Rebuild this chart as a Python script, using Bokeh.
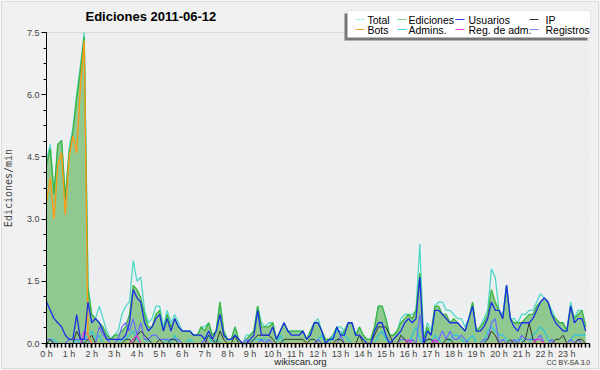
from bokeh.plotting import figure
from bokeh.models import Range1d, FixedTicker, Label, BoxAnnotation, LinearAxis
from bokeh.embed import file_html
from bokeh.resources import INLINE

# ---------------- data (edits per minute, 10-minute steps, 2011-06-12) ----------------
STEP_MIN = 10
total = [
    4.4, 4.8, 3.6, 4.8, 4.9, 3.5, 4.7, 5.2, 6.0, 6.7, 7.5, 1.4,
    0.7, 0.6, 0.9, 0.6, 0.3, 0.1, 0.2, 0.3, 0.7, 0.9, 1.0, 2.0,
    1.5, 1.6, 0.8, 0.5, 0.6, 0.9, 0.9, 0.4, 0.8, 0.5, 0.7, 0.5,
    0.3, 0.3, 0.3, 0.2, 0.2, 0.4, 0.4, 0.5, 0.2, 0.3, 1.0, 0.3,
    0.1, 0.1, 0.4, 0.1, 0.0, 0.2, 0.2, 0.3, 0.9, 0.5, 0.4, 0.5,
    0.5, 0.1, 0.3, 0.5, 0.3, 0.3, 0.3, 0.3, 0.3, 0.1, 0.3, 0.5,
    0.6, 0.3, 0.1, 0.1, 0.2, 0.4, 0.4, 0.3, 0.5, 0.5, 0.2, 0.4,
    0.2, 0.1, 0.1, 0.4, 0.9, 0.9, 0.6, 0.2, 0.2, 0.3, 0.6, 0.7,
    0.7, 0.7, 0.8, 2.4, 0.1, 0.5, 0.3, 0.9, 1.0, 1.0, 0.8, 0.8,
    0.7, 0.6, 0.6, 0.4, 0.6, 1.0, 0.3, 0.4, 0.6, 0.8, 1.8, 1.6,
    0.8, 0.7, 1.4, 0.6, 0.6, 0.5, 0.7, 0.7, 0.8, 0.8, 1.0, 1.2,
    1.1, 1.0, 0.8, 0.6, 0.5, 0.5, 0.3, 1.0, 0.6, 0.8, 0.8, 0.4,
]
ediciones = [
    4.3, 4.7, 3.6, 4.8, 4.9, 3.5, 4.6, 5.1, 5.9, 6.6, 7.4, 1.3,
    0.7, 0.6, 0.5, 0.4, 0.2, 0.1, 0.2, 0.2, 0.3, 0.4, 0.7, 1.4,
    1.3, 1.1, 0.7, 0.4, 0.4, 0.7, 0.8, 0.3, 0.7, 0.4, 0.6, 0.4,
    0.3, 0.3, 0.3, 0.2, 0.2, 0.4, 0.3, 0.5, 0.2, 0.3, 1.0, 0.3,
    0.1, 0.1, 0.4, 0.1, 0.0, 0.1, 0.2, 0.3, 0.9, 0.4, 0.4, 0.4,
    0.5, 0.1, 0.3, 0.5, 0.3, 0.3, 0.3, 0.3, 0.3, 0.1, 0.3, 0.5,
    0.5, 0.3, 0.1, 0.1, 0.2, 0.4, 0.2, 0.3, 0.5, 0.5, 0.2, 0.4,
    0.2, 0.1, 0.1, 0.4, 0.9, 0.9, 0.6, 0.2, 0.2, 0.3, 0.5, 0.6,
    0.7, 0.6, 0.8, 1.7, 0.1, 0.4, 0.2, 0.9, 0.9, 0.7, 0.7, 0.5,
    0.6, 0.5, 0.4, 0.3, 0.6, 1.0, 0.3, 0.4, 0.5, 0.7, 1.3, 1.0,
    0.8, 0.6, 1.4, 0.6, 0.5, 0.5, 0.5, 0.6, 0.7, 0.7, 0.9, 1.0,
    1.1, 1.0, 0.7, 0.6, 0.5, 0.5, 0.3, 0.9, 0.6, 0.7, 0.8, 0.4,
]
usuarios = [
    1.0, 0.8, 0.6, 0.5, 0.4, 0.2, 0.1, 0.1, 0.7, 0.1, 0.1, 1.0,
    0.5, 0.6, 0.5, 0.3, 0.1, 0.1, 0.1, 0.1, 0.1, 0.2, 0.5, 1.3,
    1.1, 1.0, 0.5, 0.3, 0.4, 0.6, 0.7, 0.3, 0.6, 0.3, 0.6, 0.4,
    0.3, 0.3, 0.3, 0.2, 0.2, 0.2, 0.1, 0.3, 0.1, 0.3, 0.7, 0.2,
    0.1, 0.1, 0.2, 0.1, 0.0, 0.0, 0.1, 0.2, 0.8, 0.2, 0.2, 0.2,
    0.4, 0.1, 0.3, 0.5, 0.3, 0.2, 0.2, 0.2, 0.3, 0.1, 0.2, 0.5,
    0.5, 0.3, 0.0, 0.1, 0.1, 0.4, 0.2, 0.2, 0.5, 0.5, 0.2, 0.2,
    0.1, 0.0, 0.0, 0.3, 0.5, 0.5, 0.2, 0.0, 0.1, 0.2, 0.3, 0.5,
    0.6, 0.5, 0.6, 1.6, 0.0, 0.3, 0.2, 0.8, 0.8, 0.7, 0.6, 0.5,
    0.5, 0.5, 0.4, 0.3, 0.6, 0.9, 0.3, 0.3, 0.4, 0.6, 1.0, 0.8,
    0.8, 0.6, 1.4, 0.6, 0.4, 0.3, 0.5, 0.5, 0.5, 0.6, 0.8, 1.0,
    1.1, 1.0, 0.7, 0.5, 0.4, 0.3, 0.3, 0.9, 0.5, 0.6, 0.6, 0.3,
]
ip = [
    0.0, 0.1, 0.0, 0.0, 0.0, 0.0, 0.0, 0.0, 0.3, 0.1, 0.0, 0.1,
    0.2, 0.0, 0.0, 0.0, 0.0, 0.0, 0.0, 0.0, 0.0, 0.1, 0.1, 0.0,
    0.2, 0.3, 0.2, 0.1, 0.0, 0.0, 0.1, 0.0, 0.0, 0.1, 0.1, 0.0,
    0.0, 0.0, 0.0, 0.0, 0.0, 0.0, 0.0, 0.2, 0.1, 0.0, 0.3, 0.1,
    0.0, 0.0, 0.2, 0.0, 0.0, 0.0, 0.0, 0.1, 0.2, 0.2, 0.2, 0.2,
    0.1, 0.0, 0.0, 0.1, 0.1, 0.1, 0.1, 0.1, 0.1, 0.0, 0.1, 0.1,
    0.0, 0.0, 0.0, 0.0, 0.0, 0.1, 0.1, 0.0, 0.0, 0.0, 0.0, 0.2,
    0.0, 0.0, 0.0, 0.2, 0.4, 0.4, 0.4, 0.2, 0.0, 0.0, 0.2, 0.1,
    0.0, 0.0, 0.0, 0.0, 0.0, 0.1, 0.1, 0.0, 0.0, 0.0, 0.1, 0.1,
    0.0, 0.0, 0.0, 0.0, 0.0, 0.0, 0.0, 0.0, 0.0, 0.1, 0.3, 0.2,
    0.0, 0.0, 0.0, 0.1, 0.0, 0.0, 0.0, 0.1, 0.5, 0.1, 0.0, 0.0,
    0.0, 0.0, 0.0, 0.1, 0.1, 0.2, 0.0, 0.0, 0.0, 0.1, 0.1, 0.0,
]
bots = [
    3.4, 4.0, 3.0, 4.3, 4.6, 3.1, 4.5, 5.0, 4.6, 6.2, 7.3, 0.2,
] + [0.0] * 132
admins = [
    0.1, 0.1, 0.1, 0.0, 0.0, 0.0, 0.0, 0.0, 0.1, 0.0, 0.1, 0.2,
    0.3, 0.1, 0.2, 0.0, 0.0, 0.0, 0.0, 0.0, 0.1, 0.1, 0.2, 0.3,
    0.1, 0.0, 0.0, 0.1, 0.0, 0.0, 0.0, 0.0, 0.1, 0.0, 0.2, 0.0,
    0.0, 0.0, 0.1, 0.0, 0.0, 0.0, 0.1, 0.2, 0.0, 0.1, 0.0, 0.0,
    0.0, 0.0, 0.0, 0.0, 0.0, 0.0, 0.0, 0.1, 0.1, 0.1, 0.1, 0.0,
    0.0, 0.0, 0.2, 0.0, 0.0, 0.0, 0.0, 0.0, 0.0, 0.0, 0.0, 0.0,
    0.1, 0.2, 0.0, 0.0, 0.2, 0.3, 0.3, 0.2, 0.1, 0.0, 0.0, 0.0,
    0.0, 0.0, 0.0, 0.0, 0.2, 0.3, 0.1, 0.0, 0.0, 0.0, 0.0, 0.0,
    0.0, 0.2, 0.4, 0.1, 0.0, 0.0, 0.0, 0.2, 0.1, 0.0, 0.0, 0.1,
    0.2, 0.2, 0.1, 0.0, 0.1, 0.2, 0.0, 0.0, 0.0, 0.3, 0.4, 0.3,
    0.2, 0.2, 0.1, 0.0, 0.0, 0.1, 0.1, 0.0, 0.0, 0.2, 0.3, 0.4,
    0.3, 0.1, 0.0, 0.0, 0.0, 0.0, 0.0, 0.1, 0.2, 0.2, 0.2, 0.2,
]
reg_adm = [
    0.0, 0.0, 0.0, 0.0, 0.0, 0.0, 0.0, 0.0, 0.0, 0.0, 0.3, 0.2,
    0.0, 0.0, 0.0, 0.0, 0.0, 0.0, 0.0, 0.0, 0.0, 0.0, 0.0, 0.1,
    0.2, 0.0, 0.0, 0.0, 0.0, 0.0, 0.0, 0.0, 0.0, 0.0, 0.0, 0.0,
    0.0, 0.0, 0.0, 0.0, 0.0, 0.0, 0.0, 0.0, 0.0, 0.0, 0.0, 0.0,
    0.0, 0.0, 0.0, 0.0, 0.0, 0.0, 0.0, 0.0, 0.0, 0.0, 0.0, 0.0,
    0.0, 0.0, 0.0, 0.0, 0.0, 0.0, 0.0, 0.0, 0.0, 0.0, 0.0, 0.0,
    0.0, 0.0, 0.0, 0.0, 0.0, 0.0, 0.0, 0.0, 0.0, 0.0, 0.0, 0.0,
    0.0, 0.0, 0.0, 0.0, 0.0, 0.0, 0.0, 0.0, 0.0, 0.0, 0.0, 0.0,
    0.1, 0.0, 0.0, 0.0, 0.0, 0.0, 0.0, 0.1, 0.0, 0.0, 0.0, 0.0,
    0.0, 0.0, 0.0, 0.0, 0.0, 0.0, 0.0, 0.0, 0.0, 0.0, 0.0, 0.0,
    0.0, 0.0, 0.0, 0.0, 0.0, 0.0, 0.0, 0.0, 0.0, 0.0, 0.1, 0.1,
    0.0, 0.0, 0.0, 0.0, 0.0, 0.0, 0.0, 0.0, 0.0, 0.0, 0.0, 0.0,
]
registros = [
    0.1, 0.1, 0.0, 0.0, 0.0, 0.0, 0.1, 0.1, 0.1, 0.1, 0.1, 0.1,
    0.0, 0.0, 0.4, 0.2, 0.1, 0.0, 0.0, 0.1, 0.4, 0.5, 0.3, 0.6,
    0.2, 0.5, 0.1, 0.1, 0.2, 0.2, 0.1, 0.1, 0.1, 0.1, 0.1, 0.1,
    0.0, 0.0, 0.0, 0.0, 0.0, 0.0, 0.1, 0.0, 0.0, 0.0, 0.0, 0.0,
    0.0, 0.0, 0.0, 0.0, 0.0, 0.1, 0.0, 0.0, 0.0, 0.1, 0.0, 0.1,
    0.0, 0.0, 0.0, 0.0, 0.0, 0.0, 0.0, 0.0, 0.0, 0.0, 0.0, 0.0,
    0.1, 0.0, 0.0, 0.0, 0.0, 0.0, 0.2, 0.0, 0.0, 0.0, 0.0, 0.0,
    0.0, 0.0, 0.0, 0.0, 0.0, 0.0, 0.0, 0.0, 0.0, 0.0, 0.1, 0.1,
    0.0, 0.1, 0.0, 0.7, 0.0, 0.1, 0.1, 0.0, 0.1, 0.3, 0.1, 0.3,
    0.1, 0.1, 0.2, 0.1, 0.0, 0.0, 0.0, 0.0, 0.1, 0.1, 0.5, 0.6,
    0.0, 0.1, 0.0, 0.0, 0.1, 0.0, 0.2, 0.1, 0.1, 0.1, 0.1, 0.2,
    0.0, 0.0, 0.1, 0.0, 0.0, 0.0, 0.0, 0.1, 0.0, 0.1, 0.0, 0.0,
]

hour_ticks = list(range(24))
hour_labels = [f"{h} h" for h in hour_ticks]
y_ticks = [0, 1.5, 3, 4.5, 6, 7.5]
y_labels = ["0.0", "1.5", "3.0", "4.5", "6.0", "7.5"]
X_MAX = 24
Y_MAX = 7.5

TITLE = "Ediciones  2011-06-12"
Y_LABEL = "Ediciones/min"

# time axis in hours from the 10-minute sample index
hours = [i * STEP_MIN / 60 for i in range(len(ediciones))]

# ---------------- layout geometry (canvas pixels) ----------------
W, H = 600, 370
PLOT_L, PLOT_R, PLOT_T, PLOT_B = 46, 589, 32, 343
px_per_x = (PLOT_R - PLOT_L) / X_MAX
px_per_y = (PLOT_B - PLOT_T) / Y_MAX
x_rng = Range1d(-PLOT_L / px_per_x, X_MAX + (W - PLOT_R) / px_per_x)
y_rng = Range1d(-(H - PLOT_B) / px_per_y, Y_MAX + PLOT_T / px_per_y)


def sy(canvas_y):
    """canvas y (top-down) -> screen units (frame bottom-up)"""
    return H - canvas_y


FONT = "Liberation Sans"
p = figure(width=W, height=H, output_backend="svg", toolbar_location=None,
           x_range=x_rng, y_range=y_rng, x_axis_location=None, y_axis_location=None,
           min_border=0)
p.border_fill_color = "#f1f1f1"
p.background_fill_color = "#f1f1f1"
p.outline_line_color = None
p.xgrid.visible = False
p.ygrid.visible = False

# plot area background and horizontal grid lines
p.add_layout(BoxAnnotation(left=0, right=X_MAX, bottom=0, top=Y_MAX,
                           fill_color="#edeef0", fill_alpha=1, line_color=None, level="underlay"))
p.segment(x0=0, x1=X_MAX, y0=y_ticks[1:], y1=y_ticks[1:], line_color="#c8c8c8",
          line_width=1, level="underlay")

C_TOTAL = "#4fd8c8"
C_EDI = "#3cb43c"
C_FILL = "#90c990"
C_USR = "#1c2ee6"
C_IP = "#333333"
C_BOTS = "#ff9a10"
C_ADM = "#2cc4e0"
C_REGADM = "#e030e0"
C_REG = "#6a6aff"

p.varea(x=hours, y1=0, y2=ediciones, fill_color=C_FILL, fill_alpha=1)
p.line(hours, total, line_color=C_TOTAL, line_width=1.3)
p.line(hours, ediciones, line_color=C_EDI, line_width=1.3)
p.line(hours, admins, line_color=C_ADM, line_width=1.2)
p.line(hours, registros, line_color=C_REG, line_width=1.2)
p.line(hours, ip, line_color=C_IP, line_width=1.0)
p.line(hours, reg_adm, line_color=C_REGADM, line_width=1.2)
p.line(hours, bots, line_color=C_BOTS, line_width=1.3)
p.line(hours, usuarios, line_color=C_USR, line_width=1.3)

# axes fixed at the data origin
xa = LinearAxis(fixed_location=0, bounds=(0, X_MAX),
                ticker=FixedTicker(ticks=hour_ticks, minor_ticks=[i / 6 for i in range(145)]))
xa.major_label_overrides = dict(zip(hour_ticks, hour_labels))
xa.major_tick_in = 0
xa.major_tick_out = 4
xa.minor_tick_in = 0
xa.minor_tick_out = 4
xa.major_tick_line_width = 1.5
xa.minor_tick_line_width = 1.5
xa.major_label_standoff = 1
xa.major_label_text_font = FONT
xa.major_label_text_font_size = "9px"
xa.axis_line_color = "black"
p.add_layout(xa, "below")

ya = LinearAxis(fixed_location=0, bounds=(0, Y_MAX),
                ticker=FixedTicker(ticks=y_ticks, minor_ticks=[k * 0.375 for k in range(21)]))
ya.major_label_overrides = dict(zip(y_ticks, y_labels))
ya.major_tick_in = 0
ya.major_tick_out = 5
ya.minor_tick_in = 0
ya.minor_tick_out = 3
ya.major_label_standoff = 2
ya.major_label_text_font = FONT
ya.major_label_text_font_size = "9px"
ya.axis_label = Y_LABEL
ya.axis_label_text_font = "DejaVu Sans Mono"
ya.axis_label_text_font_size = "10px"
ya.axis_label_text_font_style = "normal"
ya.axis_label_standoff = 10
p.add_layout(ya, "left")

# outer frame line
p.add_layout(BoxAnnotation(left=1, right=598, bottom=sy(368), top=sy(1),
                           left_units="screen", right_units="screen",
                           bottom_units="screen", top_units="screen",
                           fill_alpha=0, line_color="#a8a8a8", line_width=1))

# title
p.add_layout(Label(x=85, y=sy(16), x_units="screen", y_units="screen", text=TITLE,
                   text_font=FONT, text_font_size="13px", text_font_style="bold",
                   text_baseline="middle", text_align="left", text_color="black"))

# legend shadow and box
p.add_layout(BoxAnnotation(left=344, right=587, bottom=sy(40), top=sy(13),
                           left_units="screen", right_units="screen",
                           bottom_units="screen", top_units="screen",
                           fill_color="#777777", fill_alpha=1, line_color=None))
p.add_layout(BoxAnnotation(left=347, right=590, bottom=sy(37), top=sy(10),
                           left_units="screen", right_units="screen",
                           bottom_units="screen", top_units="screen",
                           fill_color="white", fill_alpha=1,
                           line_color="#bbbbbb", line_width=1))

legend_entries = [
    ("Total", "#a8f0ec"), ("Ediciones", "#7cd07c"), ("Usuarios", "#3a3aff"), ("IP", "#333333"),
    ("Bots", "#ffa020"), ("Admins.", "#40d4e8"), ("Reg. de adm.", "#e040e0"), ("Registros", "#7a7aff"),
]
line_x = [355, 397, 455, 529]
text_x = [367, 408, 468, 545]
row_y = [19, 29]
for k, (name, col) in enumerate(legend_entries):
    c = k % 4
    cy = sy(row_y[k // 4])
    p.add_layout(BoxAnnotation(left=line_x[c], right=line_x[c] + 9, bottom=cy - 0.6, top=cy + 0.6,
                               left_units="screen", right_units="screen",
                               bottom_units="screen", top_units="screen",
                               fill_color=col, fill_alpha=1, line_color=None))
    p.add_layout(Label(x=text_x[c], y=cy, x_units="screen", y_units="screen", text=name,
                       text_font=FONT, text_font_size="10.5px", text_baseline="middle",
                       text_align="left", text_color="black"))

# footer
p.add_layout(Label(x=300, y=sy(361), x_units="screen", y_units="screen", text="wikiscan.org",
                   text_font=FONT, text_font_size="9.5px", text_baseline="middle",
                   text_align="center", text_color="#222222"))
p.add_layout(Label(x=590, y=sy(362), x_units="screen", y_units="screen", text="CC BY-SA 3.0",
                   text_font=FONT, text_font_size="7px", text_baseline="middle",
                   text_align="right", text_color="#333333"))

open("out.html", "w").write(file_html(p, INLINE))
